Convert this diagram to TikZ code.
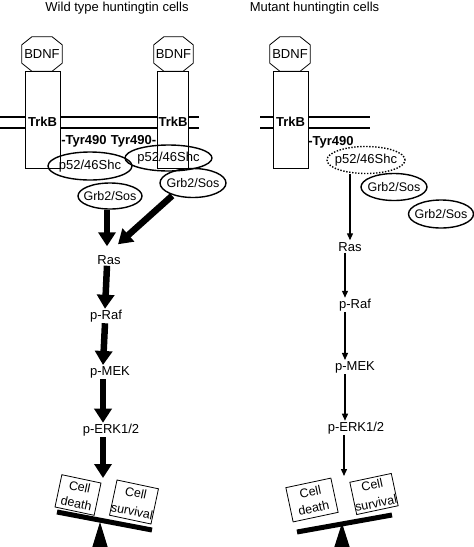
\documentclass[tikz,border=0pt]{standalone}
\usepackage{fontspec}
\setmainfont{Liberation Sans}
\usetikzlibrary{shapes.geometric,arrows.meta,calc}
\newcommand\zwbox[1]{\makebox[0pt]{#1}}
\newcommand\drawocta[1]{\draw[line width=0.8pt] ([xshift=10pt]#1.north west) -- ([xshift=-10pt]#1.north east) -- ([yshift=-8pt]#1.north east) -- ([yshift=8pt]#1.south east) -- ([xshift=-10pt]#1.south east) -- ([xshift=10pt]#1.south west) -- ([yshift=8pt]#1.south west) -- ([yshift=-8pt]#1.north west) -- cycle;}
\begin{document}
\begin{tikzpicture}[x=1pt,y=-1pt,
  txt/.style={font=\fontsize{13}{15}\selectfont, inner sep=1pt},
  boldlbl/.style={font=\fontsize{13}{15}\selectfont\bfseries, inner sep=0pt},
  memb/.style={line width=2pt},
  recbox/.style={draw, line width=0.8pt, fill=white, minimum height=97pt, inner sep=0pt},
  octa/.style={minimum width=40pt, minimum height=34pt, inner sep=0pt, font=\fontsize{13}{15}\selectfont},
  oval/.style={ellipse, draw, line width=1.4pt, inner sep=0pt, font=\fontsize{13}{15}\selectfont},
  dotoval/.style={oval, dash pattern=on 1.4pt off 1.6pt},
  bigarrow/.style={line width=6.5pt, -{Triangle[width=17pt,length=14pt]}},
  thinarrow/.style={line width=1.3pt, -{Triangle[width=6pt,length=7pt]}},
  outcome/.style={draw, line width=0.8pt, fill=white, align=center, font=\fontsize{12.5}{16.5}\selectfont, inner sep=1.5pt},
  survbox/.style={outcome, font=\fontsize{12.5}{18.5}\selectfont, inner xsep=0pt, inner ysep=0.5pt},
  beam/.style={line width=5pt},
]
\path[use as bounding box] (0,0) rectangle (474,547);

%================ LEFT PANEL ================
\node[txt] (t1) at (117,8) {Wild type huntingtin cells};

\coordinate (m1a) at (0,117);   \coordinate (m1b) at (199,117);
\coordinate (m1c) at (0,128);   \coordinate (m1d) at (199,128);
\draw[memb] (m1a) -- (m1b);
\draw[memb] (m1c) -- (m1d);

\node[recbox, minimum width=35pt] (r1) at (42.5,119.5) {};
\node[recbox, minimum width=30.5pt] (r2) at (173,119.5) {};
\node[boldlbl] (trk1) at (42.5,122) {TrkB};
\node[boldlbl] (trk2) at (173,122) {TrkB};

\node[octa] (bd1) at (42,54) {BDNF};
\drawocta{bd1}
\node[octa, minimum width=39pt] (bd2) at (173.5,54) {BDNF};
\drawocta{bd2}

\node[boldlbl] (ty1) at (84,141) {-Tyr490};
\node[boldlbl] (ty2) at (133.5,141) {Tyr490-};

\node[oval, minimum width=84pt, minimum height=28pt] (shc1) at (90,166) {\zwbox{p52/46Shc}};
\node[oval, minimum width=87pt, minimum height=26pt] (shc2) at (168.5,158) {\zwbox{p52/46Shc}};
\node[oval, minimum width=64pt, minimum height=26pt, font=\fontsize{12.5}{14}\selectfont] (grb1) at (110,196) {\zwbox{Grb2/Sos}};
\node[oval, minimum width=66pt, minimum height=29pt, font=\fontsize{12.5}{14}\selectfont] (grb2) at (193,183) {\zwbox{Grb2/Sos}};

\node[txt] (ras1) at (109,260) {Ras};
\node[txt] (raf1) at (106,316) {p-Raf};
\node[txt] (mek1) at (110,372) {p-MEK};
\node[txt] (erk1) at (111,430) {p-ERK1/2};

\draw[bigarrow] ([xshift=-3pt]grb1.south) -- ([shift={(-2pt,8pt)}]ras1.north);
\draw[bigarrow] ([shift={(3pt,-2pt)}]grb2.south west) -- ([shift={(9pt,10pt)}]ras1.north);
\draw[bigarrow] ([xshift=-2pt]ras1.south) -- ([xshift=-1pt]raf1.north);
\draw[bigarrow] ([xshift=-1pt]raf1.south) -- ([xshift=-7pt]mek1.north);
\draw[bigarrow] ([xshift=-7pt]mek1.south) -- ([xshift=-8pt]erk1.north);
\coordinate (bal1) at (103,478);
\draw[bigarrow] ([xshift=-8pt]erk1.south) -- (bal1);

% balance left
\coordinate (bm1a) at (57,512);
\coordinate (bm1b) at (152,530);
\draw[beam] (bm1a) -- (bm1b);
\coordinate (pv1) at (100,522);
\fill (pv1) -- (92,548) -- (108,548) -- cycle;
\node[outcome, rotate=-12, minimum width=40pt, minimum height=33pt] (cd1) at (78,495) {Cell\\death};
\node[survbox, rotate=-12, minimum width=42pt, minimum height=36pt] (cs1) at (134,502) {Cell\\survival};

%================ RIGHT PANEL ================
\node[txt] (t2) at (314.5,8) {Mutant huntingtin cells};

\coordinate (m2a) at (260,117);   \coordinate (m2b) at (370,117);
\coordinate (m2c) at (260,128);   \coordinate (m2d) at (370,128);
\draw[memb] (m2a) -- (m2b);
\draw[memb] (m2c) -- (m2d);

\node[recbox, minimum width=35pt] (r3) at (290.5,119.5) {};
\node[boldlbl] (trk3) at (290.5,122) {TrkB};
\node[octa] (bd3) at (290,54) {BDNF};
\drawocta{bd3}

\node[dotoval, minimum width=78pt, minimum height=27pt] (shc3) at (366,160) {\zwbox{p52/46Shc}};
\node[boldlbl] (ty3) at (331,142) {-Tyr490};
\node[oval, minimum width=66pt, minimum height=27pt, font=\fontsize{12.5}{14}\selectfont] (grb3) at (394,187) {\zwbox{Grb2/Sos}};
\node[oval, minimum width=65pt, minimum height=28pt, font=\fontsize{12.5}{14}\selectfont] (grb4) at (441,214) {\zwbox{Grb2/Sos}};

\node[txt] (ras2) at (350,247) {Ras};
\node[txt] (raf2) at (355,305) {p-Raf};
\node[txt] (mek2) at (355,367) {p-MEK};
\node[txt] (erk2) at (356,428) {p-ERK1/2};

\draw[thinarrow] ([xshift=-16pt]shc3.south) -- ([shift={(0pt,1pt)}]ras2.north);
\draw[thinarrow] ([xshift=-5pt]ras2.south) -- ([xshift=-10pt]raf2.north);
\draw[thinarrow] ([xshift=-10pt]raf2.south) -- ([xshift=-10pt]mek2.north);
\draw[thinarrow] ([xshift=-10pt]mek2.south) -- ([xshift=-11pt]erk2.north);
\coordinate (bal2) at (344,476);
\draw[thinarrow] ([xshift=-12pt]erk2.south) -- (bal2);

% balance right
\coordinate (bm2a) at (297,532);
\coordinate (bm2b) at (392,515);
\draw[beam] (bm2a) -- (bm2b);
\coordinate (pv2) at (342,523);
\fill (pv2) -- (334,548) -- (350,548) -- cycle;
\node[outcome, rotate=12, minimum width=46pt, minimum height=35pt] (cd2) at (312,500) {Cell\\death};
\node[survbox, rotate=12, minimum width=41pt, minimum height=33pt] (cs2) at (374,494) {Cell\\survival};
\end{tikzpicture}
\end{document}
